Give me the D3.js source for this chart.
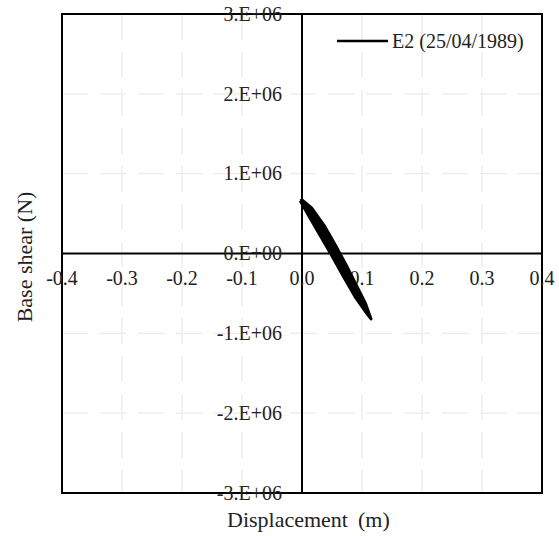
<!DOCTYPE html>
<html><head><meta charset="utf-8">
<script src="https://cdn.jsdelivr.net/npm/d3@7"></script>
<style>body{margin:0;background:#fff}svg{display:block}</style>
</head><body><svg id="c" width="559" height="536"></svg>
<script>
const xTicks = [-0.4,-0.3,-0.2,-0.1,0.0,0.1,0.2,0.3,0.4];
const xTickLabels = ["-0.4","-0.3","-0.2","-0.1","0.0","0.1","0.2","0.3","0.4"];
const yTicks = [-3e6,-2e6,-1e6,0,1e6,2e6,3e6];
const yTickLabels = ["-3.E+06","-2.E+06","-1.E+06","0.E+00","1.E+06","2.E+06","3.E+06"];
const dispX = [-0.003,0.01,0.03,0.05,0.07,0.09,0.105,0.115,0.106,0.092,0.074,0.056,0.037,0.016,0.0,-0.003];
const shearY = [0.66e6,0.49e6,0.23e6,-0.03e6,-0.30e6,-0.56e6,-0.72e6,-0.82e6,-0.63e6,-0.42e6,-0.15e6,0.10e6,0.35e6,0.57e6,0.67e6,0.66e6];
const seriesName = "E2 (25/04/1989)";
const FONT = "Liberation Serif";

const svg = d3.select("#c");
const L=62,R=542,T=14,B=493;
const x = d3.scaleLinear().domain([-0.4,0.4]).range([L,R]);
const y = d3.scaleLinear().domain([-3e6,3e6]).range([B,T]);

const g = svg.append("g");
g.selectAll("line.vx").data(xTicks.filter(d=>Math.abs(d)>1e-9 && Math.abs(d)<0.39)).enter().append("line")
 .attr("x1",d=>x(d)).attr("x2",d=>x(d)).attr("y1",T).attr("y2",B)
 .attr("stroke","#ebebeb").attr("stroke-width",1.3).attr("stroke-dasharray","26,12");
g.selectAll("line.hy").data(yTicks.filter(d=>d!==0 && Math.abs(d)<2.9e6)).enter().append("line")
 .attr("y1",d=>y(d)).attr("y2",d=>y(d)).attr("x1",L).attr("x2",R)
 .attr("stroke","#ebebeb").attr("stroke-width",1.3).attr("stroke-dasharray","26,12");

svg.append("rect").attr("x",L).attr("y",T).attr("width",R-L).attr("height",B-T)
 .attr("fill","none").attr("stroke","#000").attr("stroke-width",2);
svg.append("line").attr("x1",x(0)).attr("x2",x(0)).attr("y1",T).attr("y2",B).attr("stroke","#000").attr("stroke-width",2);
svg.append("line").attr("x1",L).attr("x2",R).attr("y1",y(0)).attr("y2",y(0)).attr("stroke","#000").attr("stroke-width",2);

svg.append("g").selectAll("text").data(xTicks).enter().append("text")
 .attr("x",d=>x(d)).attr("y",y(0)+31).attr("text-anchor","middle")
 .style("font-family",FONT).attr("font-size",20).attr("fill","#222")
 .text((d,i)=>xTickLabels[i]);
svg.append("g").selectAll("text").data(yTicks).enter().append("text")
 .attr("x",x(0)-20).attr("y",d=>y(d)).attr("dy","0.34em").attr("text-anchor","end")
 .style("font-family",FONT).attr("font-size",20).attr("fill","#222")
 .text((d,i)=>yTickLabels[i]);

const line = d3.line().x(d=>x(d[0])).y(d=>y(d[1])).curve(d3.curveLinear);
svg.append("path").datum(dispX.map((d,i)=>[d,shearY[i]]))
 .attr("d",line).attr("fill","#000").attr("stroke","#000").attr("stroke-width",3).attr("stroke-linejoin","round");

svg.append("line").attr("x1",337).attr("x2",388).attr("y1",41).attr("y2",41).attr("stroke","#000").attr("stroke-width",2.5);
svg.append("text").attr("x",392).attr("y",41).attr("dy","0.34em")
 .style("font-family",FONT).attr("font-size",20).attr("fill","#222").text(seriesName);

svg.append("text").attr("x",227).attr("y",527)
 .style("font-family",FONT).attr("font-size",22).attr("fill","#222").text("Displacement");
svg.append("text").attr("x",358).attr("y",527)
 .style("font-family",FONT).attr("font-size",22).attr("fill","#222").text("(m)");
svg.append("text").attr("transform","translate(32,257) rotate(-90)").attr("text-anchor","middle")
 .style("font-family",FONT).attr("font-size",22).attr("fill","#222").text("Base shear (N)");
</script></body></html>
